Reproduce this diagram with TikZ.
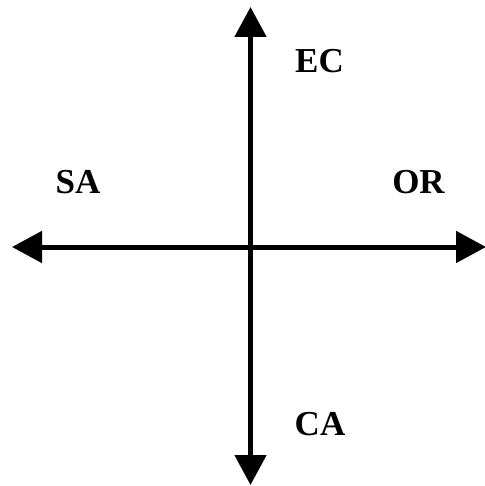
\documentclass[tikz,border=0pt]{standalone}
\usepackage{fontspec}
\setmainfont{Liberation Serif}
\usetikzlibrary{arrows.meta}
\begin{document}
\begin{tikzpicture}[x=1pt,y=-1pt,
  axis/.style={line width=5pt,{Triangle[length=30pt,width=31pt]}-{Triangle[length=30pt,width=31pt]}},
  lbl/.style={font=\fontsize{35}{40}\selectfont\bfseries,inner sep=0pt}]
\useasboundingbox (0,0) rectangle (484,486);
\coordinate (top) at (250.5,7);
\coordinate (bottom) at (250.5,485);
\coordinate (left) at (12,247);
\coordinate (right) at (486,247);
\draw[axis] (top) -- (bottom);
\draw[axis] (left) -- (right);
\node[lbl] (ec) at (319.5,61) {EC};
\node[lbl] (sa) at (78,182) {SA};
\node[lbl] (or) at (418.5,182.5) {OR};
\node[lbl] (ca) at (320,424) {CA};
\end{tikzpicture}
\end{document}
